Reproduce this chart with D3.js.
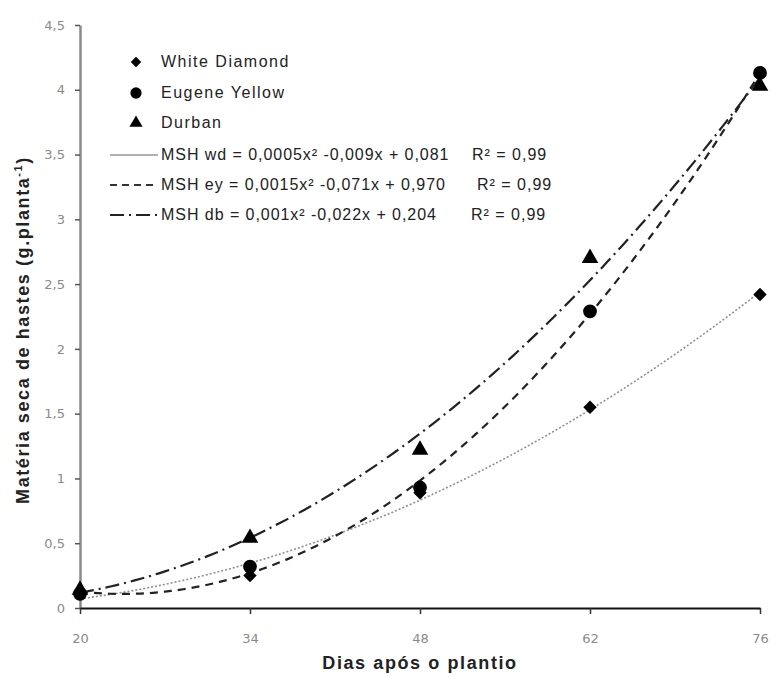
<!DOCTYPE html>
<html>
<head>
<meta charset="utf-8">
<script src="https://cdn.jsdelivr.net/npm/d3@7"></script>
<style>
  html, body { margin: 0; padding: 0; background: #fff; }
  svg { display: block; }
</style>
</head>
<body>
<svg id="chart" width="771" height="677"></svg>
<script>
const days = [20, 34, 48, 62, 76];
const whiteDiamond = [0.11, 0.25, 0.89, 1.55, 2.42];
const eugeneYellow = [0.11, 0.32, 0.93, 2.29, 4.13];
const durban = [0.14, 0.54, 1.22, 2.70, 4.03];
const yTicks = [0, 0.5, 1, 1.5, 2, 2.5, 3, 3.5, 4, 4.5];
const yTickLabels = ["0", "0,5", "1", "1,5", "2", "2,5", "3", "3,5", "4", "4,5"];
const seriesNames = ["White Diamond", "Eugene Yellow", "Durban"];
const trendLabels = [
  "MSH wd = 0,0005x² -0,009x + 0,081",
  "MSH ey = 0,0015x² -0,071x + 0,970",
  "MSH db = 0,001x² -0,022x + 0,204"
];
const r2Labels = ["R² = 0,99", "R² = 0,99", "R² = 0,99"];
const xTitle = "Dias após o plantio";
const yTitle = "Matéria seca de hastes (g.planta";

const svg = d3.select("#chart");
const x = d3.scaleLinear().domain([20, 76]).range([80, 760]);
const y = d3.scaleLinear().domain([0, 4.5]).range([608, 25]);

// Quadratic least squares fit (Excel-style polynomial trendline)
function quadFit(xs, ys) {
  const n = xs.length;
  let s = [0,0,0,0,0], t = [0,0,0];
  for (let i = 0; i < n; i++) {
    const xi = xs[i], yi = ys[i];
    for (let k = 0; k <= 4; k++) s[k] += Math.pow(xi, k);
    for (let k = 0; k <= 2; k++) t[k] += Math.pow(xi, k) * yi;
  }
  const M = [[s[0], s[1], s[2], t[0]], [s[1], s[2], s[3], t[1]], [s[2], s[3], s[4], t[2]]];
  for (let i = 0; i < 3; i++) {
    let p = i;
    for (let r = i + 1; r < 3; r++) if (Math.abs(M[r][i]) > Math.abs(M[p][i])) p = r;
    [M[i], M[p]] = [M[p], M[i]];
    for (let r = 0; r < 3; r++) {
      if (r === i) continue;
      const f = M[r][i] / M[i][i];
      for (let c = i; c < 4; c++) M[r][c] -= f * M[i][c];
    }
  }
  const c0 = M[0][3] / M[0][0], c1 = M[1][3] / M[1][1], c2 = M[2][3] / M[2][2];
  return v => c0 + c1 * v + c2 * v * v;
}

// Axes
const yAxis = d3.axisLeft(y).tickValues(yTicks).tickFormat((d, i) => yTickLabels[i]).tickSize(5).tickSizeOuter(0).tickPadding(10);
const gy = svg.append("g").attr("transform", "translate(80,0)").call(yAxis);
gy.select(".domain").attr("stroke", "#8a8a8a").attr("stroke-width", 2.5);
gy.selectAll(".tick line").attr("stroke", "#555").attr("stroke-width", 1.5);
gy.selectAll(".tick text").attr("fill", "#8a8a8a").attr("font-family", "'DejaVu Sans', Verdana, sans-serif").attr("font-size", 13);

const xAxis = d3.axisBottom(x).tickValues(days).tickFormat(d3.format("d")).tickSize(6).tickSizeOuter(0).tickPadding(20);
const gx = svg.append("g").attr("transform", "translate(0,608)").call(xAxis);
gx.select(".domain").attr("stroke", "#111").attr("stroke-width", 2);
gx.selectAll(".tick line").attr("stroke", "#333").attr("stroke-width", 1.5);
gx.selectAll(".tick text").attr("fill", "#8a8a8a").attr("font-family", "'DejaVu Sans', Verdana, sans-serif").attr("font-size", 13);

// Trend lines
const styles = [
  { stroke: "#8f8f8f", width: 1.6, dash: "2,2" },
  { stroke: "#222", width: 2.2, dash: "8,6" },
  { stroke: "#222", width: 2.2, dash: "14,5,2,5" }
];
const legendStyles = [
  { stroke: "#b0b0b0", width: 2, dash: null },
  { stroke: "#333", width: 2, dash: "7,5" },
  { stroke: "#222", width: 2, dash: "14,5,2,5" }
];
const allSeries = [whiteDiamond, eugeneYellow, durban];
const line = d3.line().x(d => x(d[0])).y(d => y(d[1])).curve(d3.curveLinear);
allSeries.forEach((vals, i) => {
  const f = quadFit(days, vals);
  const pts = d3.range(20, 76.01, 0.5).map(v => [v, f(v)]);
  svg.append("path").datum(pts).attr("d", line)
    .attr("fill", "none").attr("stroke", styles[i].stroke)
    .attr("stroke-width", styles[i].width).attr("stroke-dasharray", styles[i].dash);
});

// Markers (diamond = square rotated 45°)
const symbols = [d3.symbolSquare, d3.symbolCircle, d3.symbolTriangle];
const rotations = [45, 0, 0];
const sizes = [90, 150, 120];
allSeries.forEach((vals, i) => {
  svg.append("g").selectAll("path").data(vals).join("path")
    .attr("transform", (d, j) => `translate(${x(days[j])},${y(d)}) rotate(${rotations[i]})`)
    .attr("d", d3.symbol().type(symbols[i]).size(sizes[i]))
    .attr("fill", "#000");
});

// Legend
const legFont = "'Liberation Sans', Arial, sans-serif";
const legMarkRows = [62, 93, 123];
const legSizes = [55, 100, 75];
seriesNames.forEach((name, i) => {
  svg.append("path").attr("transform", `translate(136,${legMarkRows[i]}) rotate(${rotations[i]})`)
    .attr("d", d3.symbol().type(symbols[i]).size(legSizes[i])).attr("fill", "#000");
  svg.append("text").attr("x", 161).attr("y", legMarkRows[i] + 5)
    .attr("font-family", legFont).attr("font-size", 16).attr("letter-spacing", 1.5).attr("fill", "#222").text(name);
});
const legLineRows = [155, 185, 215];
const r2x = [472, 477, 471];
trendLabels.forEach((lab, i) => {
  const ls = legendStyles[i];
  svg.append("line").attr("x1", 110).attr("x2", 158).attr("y1", legLineRows[i]).attr("y2", legLineRows[i])
    .attr("stroke", ls.stroke).attr("stroke-width", ls.width).attr("stroke-dasharray", ls.dash);
  svg.append("text").attr("x", 161).attr("y", legLineRows[i] + 5)
    .attr("font-family", legFont).attr("font-size", 16).attr("letter-spacing", 0.95).attr("fill", "#222").text(lab);
  svg.append("text").attr("x", r2x[i]).attr("y", legLineRows[i] + 5)
    .attr("font-family", legFont).attr("font-size", 16).attr("letter-spacing", 1).attr("fill", "#222").text(r2Labels[i]);
});

// Axis titles
svg.append("text").attr("x", 420).attr("y", 669).attr("text-anchor", "middle")
  .attr("font-family", legFont).attr("font-weight", "bold").attr("font-size", 18).attr("letter-spacing", 1.6).attr("fill", "#222")
  .text(xTitle);
const yt = svg.append("text").attr("transform", "translate(29,330) rotate(-90)").attr("text-anchor", "middle")
  .attr("font-family", legFont).attr("font-weight", "bold").attr("font-size", 18).attr("letter-spacing", 1.6).attr("fill", "#222");
yt.append("tspan").text(yTitle);
yt.append("tspan").attr("font-size", 11).attr("dy", -7).text("-1");
yt.append("tspan").attr("dy", 7).text(")");
</script>
</body>
</html>
